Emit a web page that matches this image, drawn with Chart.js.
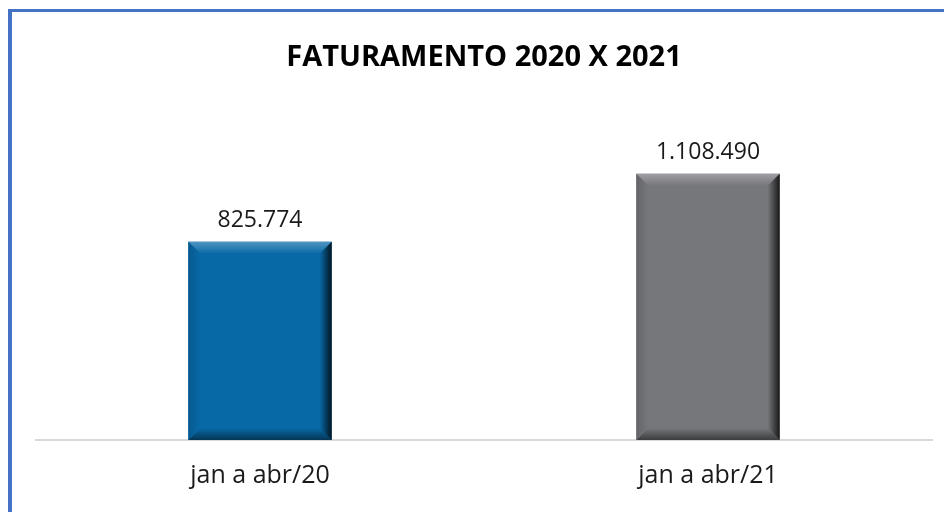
<!DOCTYPE html>
<html>
<head>
<meta charset="utf-8">
<script src="https://cdn.jsdelivr.net/npm/chart.js@4"></script>
<style>
  html, body { margin: 0; padding: 0; background: #fff; }
  #wrap { width: 944px; height: 512px; position: relative; }
</style>
</head>
<body>
<div id="wrap"><canvas id="chart" width="944" height="512"></canvas></div>
<script>
var categories = ['jan a abr/20', 'jan a abr/21'];
var faturamento = [825774, 1108490];
var barColors = ['#0869A7', '#76777B'];
var chartTitle = 'FATURAMENTO 2020 X 2021';

// pt-BR thousands separator
function fmt(v) {
    return String(v).replace(/\B(?=(\d{3})+(?!\d))/g, '.');
}

function shade(hex, amt) {
    var n = parseInt(hex.slice(1), 16);
    var r = (n >> 16) & 255, g = (n >> 8) & 255, b = n & 255;
    function f(c) {
        c = amt < 0 ? c * (1 + amt) : c + (255 - c) * amt;
        return Math.round(Math.max(0, Math.min(255, c)));
    }
    return 'rgb(' + f(r) + ',' + f(g) + ',' + f(b) + ')';
}

// left + top frame line
var framePlugin = {
    id: 'frame',
    beforeDraw: function (chart) {
        var ctx = chart.ctx;
        ctx.save();
        ctx.fillStyle = '#4472C4';
        ctx.fillRect(8, 9, 4, 512);
        ctx.fillRect(8, 9, 944, 3);
        ctx.restore();
    }
};

// bevel effect + value labels
var bevelPlugin = {
    id: 'bevel',
    afterDatasetsDraw: function (chart) {
        var ctx = chart.ctx;
        var meta = chart.getDatasetMeta(0);
        meta.data.forEach(function (bar, i) {
            var p = bar.getProps(['x', 'y', 'base', 'width'], true);
            var l = p.x - p.width / 2, r = p.x + p.width / 2, t = p.y, b = p.base;
            var s = 12;
            var c = barColors[i];
            ctx.save();
            // top
            var gt = ctx.createLinearGradient(0, t, 0, t + s);
            gt.addColorStop(0, shade(c, 0.3));
            gt.addColorStop(0.5, shade(c, 0.15));
            gt.addColorStop(1, c);
            ctx.fillStyle = gt;
            ctx.beginPath();
            ctx.moveTo(l, t); ctx.lineTo(r, t); ctx.lineTo(r - s, t + s); ctx.lineTo(l + s, t + s); ctx.closePath();
            ctx.fill();
            // bottom
            var gb = ctx.createLinearGradient(0, b - s, 0, b);
            gb.addColorStop(0, c);
            gb.addColorStop(1, shade(c, -0.5));
            ctx.fillStyle = gb;
            ctx.beginPath();
            ctx.moveTo(l, b); ctx.lineTo(r, b); ctx.lineTo(r - s, b - s); ctx.lineTo(l + s, b - s); ctx.closePath();
            ctx.fill();
            // right
            var gr = ctx.createLinearGradient(r - s, 0, r, 0);
            gr.addColorStop(0, c);
            gr.addColorStop(1, shade(c, -0.8));
            ctx.fillStyle = gr;
            ctx.beginPath();
            ctx.moveTo(r, t); ctx.lineTo(r, b); ctx.lineTo(r - s, b - s); ctx.lineTo(r - s, t + s); ctx.closePath();
            ctx.fill();
            // left
            var gl = ctx.createLinearGradient(l, 0, l + s, 0);
            gl.addColorStop(0, shade(c, -0.15));
            gl.addColorStop(1, c);
            ctx.fillStyle = gl;
            ctx.beginPath();
            ctx.moveTo(l, t); ctx.lineTo(l, b); ctx.lineTo(l + s, b - s); ctx.lineTo(l + s, t + s); ctx.closePath();
            ctx.fill();
            // value
            ctx.fillStyle = '#1a1a1a';
            ctx.font = '23px "Open Sans", sans-serif';
            ctx.textAlign = 'center';
            ctx.textBaseline = 'alphabetic';
            ctx.fillText(fmt(faturamento[i]), p.x, t - 15);
            ctx.restore();
        });
    }
};

var ctx = document.getElementById('chart').getContext('2d');
var myChart = new Chart(ctx, {
    type: 'bar',
    data: {
        labels: categories,
        datasets: [{
            data: faturamento,
            backgroundColor: barColors,
            borderWidth: 0,
            barPercentage: 1,
            categoryPercentage: 0.32
        }]
    },
    options: {
        responsive: false,
        animation: false,
        layout: { padding: { left: 36, right: 12, top: 0, bottom: 0 } },
        plugins: {
            legend: { display: false },
            tooltip: { enabled: false },
            title: {
                display: true,
                text: chartTitle,
                color: '#000',
                font: { family: '"Open Sans", sans-serif', size: 29, weight: 'bold', lineHeight: 1.2 },
                padding: { top: 40, bottom: 29 }
            }
        },
        scales: {
            x: {
                grid: { display: false, drawTicks: false },
                border: { color: '#D9D9D9', width: 2 },
                ticks: { color: '#1a1a1a', font: { family: '"Open Sans", sans-serif', size: 25, lineHeight: 1.2 }, padding: 21 }
            },
            y: {
                display: false,
                min: 0,
                max: 1400000
            }
        }
    },
    plugins: [framePlugin, bevelPlugin]
});
</script>
</body>
</html>
